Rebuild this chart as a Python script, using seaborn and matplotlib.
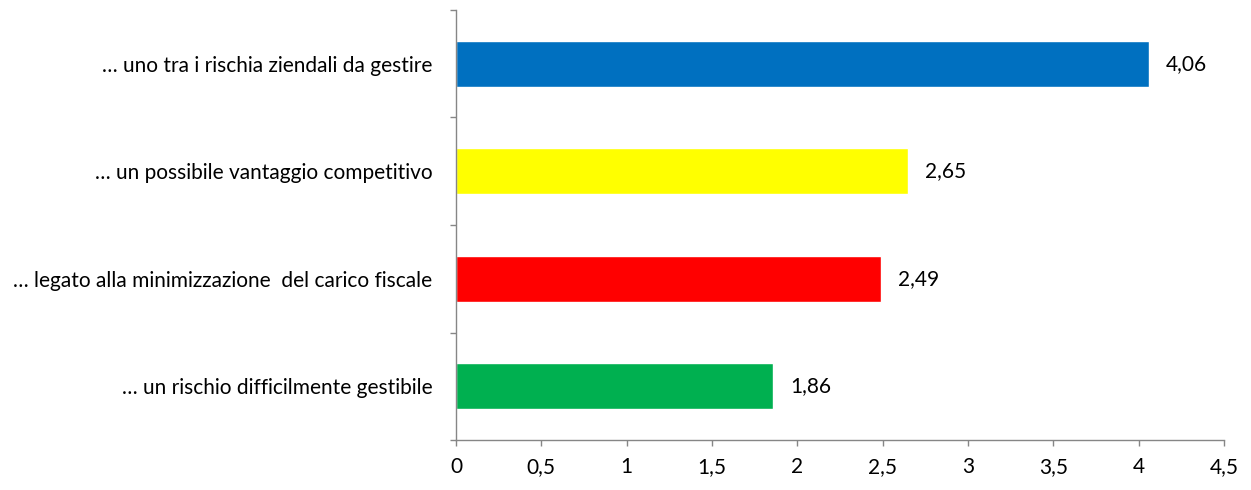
import matplotlib
matplotlib.use("Agg")
import matplotlib.pyplot as plt
from matplotlib.ticker import FixedLocator, FuncFormatter
import seaborn as sns
import pandas as pd

categories = [
    "… uno tra i rischia ziendali da gestire",
    "… un possibile vantaggio competitivo",
    "… legato alla minimizzazione  del carico fiscale",
    "… un rischio difficilmente gestibile",
]
values = [4.06, 2.65, 2.49, 1.86]
colors = ["#0070C0", "#FFFF00", "#FF0000", "#00B050"]
x_ticks = [0, 0.5, 1, 1.5, 2, 2.5, 3, 3.5, 4, 4.5]

sns.set_theme(style="white")
plt.rcParams["font.family"] = ["Lato", "DejaVu Sans"]

df = pd.DataFrame({"categoria": categories, "valore": values})

fig = plt.figure(figsize=(12.51, 4.90), dpi=100)
ax = fig.add_axes([456 / 1251, 50 / 490, 768 / 1251, 430 / 490])

sns.barplot(data=df, x="valore", y="categoria", hue="categoria",
            palette=colors, order=categories, hue_order=categories,
            width=0.43, legend=False, ax=ax, saturation=1)

axis_grey = "#868686"
fs = 15
ax.set_xlim(0, 4.5)
ax.set_ylim(len(categories) - 0.5, -0.5)
ax.set_xlabel("")
ax.set_ylabel("")

for side in ("top", "right"):
    ax.spines[side].set_visible(False)
for side in ("left", "bottom"):
    ax.spines[side].set_color(axis_grey)
    ax.spines[side].set_linewidth(1.0)

ax.xaxis.set_major_locator(FixedLocator(x_ticks))
ax.xaxis.set_major_formatter(FuncFormatter(lambda v, p: f"{v:g}".replace(".", ",")))
ax.tick_params(axis="x", direction="out", length=4, width=1, color=axis_grey,
               labelsize=fs, labelcolor="black", pad=8, bottom=True)

# category labels on major ticks (hidden marks), band separators on minor ticks
ax.set_yticks(range(len(categories)))
ax.set_yticklabels(categories)
ax.yaxis.set_minor_locator(FixedLocator([i - 0.5 for i in range(len(categories) + 1)]))
ax.tick_params(axis="y", which="major", length=0, labelsize=fs,
               labelcolor="black", pad=17)
ax.tick_params(axis="y", which="minor", direction="out", length=4, width=1,
               color=axis_grey, left=True)

for i, v in enumerate(values):
    ax.text(v + 0.1, i, f"{v:.2f}".replace(".", ","), va="center", ha="left",
            fontsize=fs, color="black")

fig.savefig("out.png", dpi=100, facecolor="white")
